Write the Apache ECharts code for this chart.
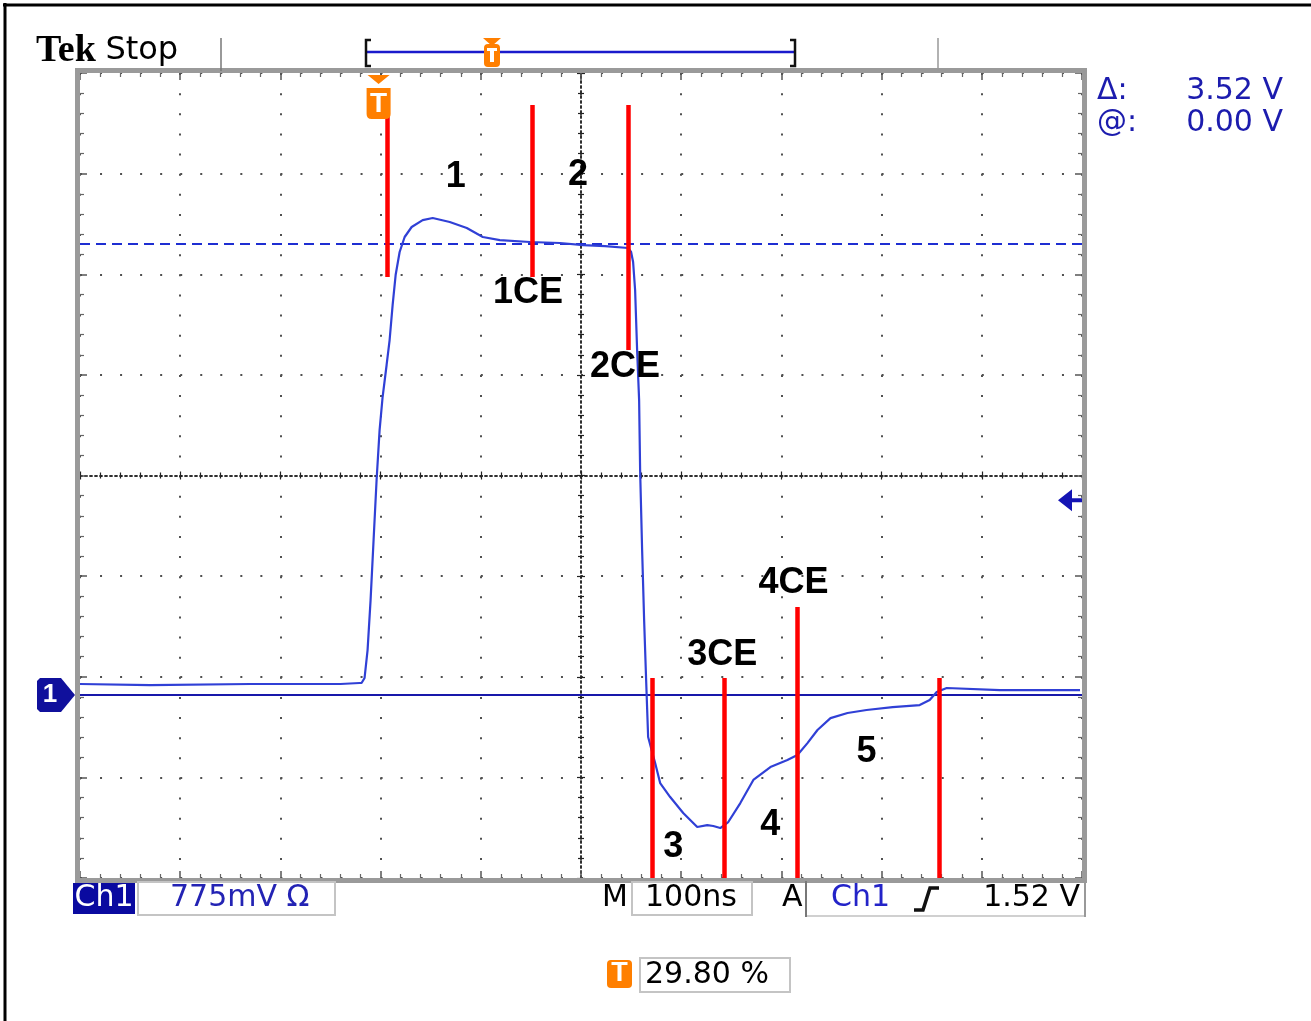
<!DOCTYPE html>
<html><head><meta charset="utf-8">
<script src="https://cdn.jsdelivr.net/npm/echarts@6/dist/echarts.min.js"></script>
<style>html,body{margin:0;padding:0;background:#fff}#c{width:1311px;height:1021px}</style>
</head><body><div id="c"></div>
<script>
// ---- data (time in ns, voltage in V) ----
const timeNs = [0, 70, 170, 260, 279, 281, 284, 287, 290, 293, 296, 299, 302, 306, 309, 312, 315, 319, 324, 331, 342, 352, 369, 386, 402, 419, 449, 479, 502, 524, 547, 550, 552, 554, 556, 558, 559, 561, 563, 565, 567, 571, 574, 579, 589, 602, 616, 626, 632, 639, 647, 659, 672, 689, 706, 716, 726, 736, 749, 766, 785, 811, 838, 848, 855, 865, 918, 998];
const traceVolts = [0.086, 0.078, 0.086, 0.086, 0.094, 0.094, 0.133, 0.351, 0.741, 1.210, 1.678, 2.068, 2.326, 2.576, 2.771, 3.044, 3.278, 3.458, 3.575, 3.653, 3.707, 3.723, 3.692, 3.645, 3.575, 3.551, 3.536, 3.528, 3.512, 3.504, 3.489, 3.458, 3.380, 3.161, 2.693, 2.302, 1.756, 1.132, 0.585, 0.117, -0.328, -0.445, -0.531, -0.687, -0.796, -0.921, -1.030, -1.015, -1.022, -1.038, -0.991, -0.843, -0.663, -0.562, -0.507, -0.468, -0.375, -0.273, -0.180, -0.140, -0.117, -0.094, -0.078, -0.039, 0.023, 0.055, 0.039, 0.039];

const cursorTimes   = [307, 451, 547, 571, 643, 716, 858];
const cursorTops    = [4.605, 4.605, 4.605, 0.133, 0.133, 0.687, 0.133];
const cursorBottoms = [3.262, 3.262, 2.693, -1.428, -1.428, -1.428, -1.428];

const labelTexts = ['1', '2', '1CE', '2CE', '3CE', '4CE', '3', '4', '5'];
const labelTimes = [375, 497, 447, 544, 641, 712, 592, 689, 785];
const labelVolts = [4.043, 4.059, 3.138, 2.560, 0.312, 0.874, -1.186, -1.015, -0.445];

const levelCursors = [3.52, 0.00];
const triggerTimeNs = 298;
const triggerLevelV = 1.52;
const voltMin = -1.428, voltMax = 4.855;
const timeMin = 0, timeMax = 1000, timeDiv = 100;

const readDelta = '3.52 V', readAt = '0.00 V';
const chScale = '775mV \u03A9', timeBase = '100ns', trigLevelText = '1.52 V', trigPosText = '29.80 %';

// ---- chart ----
const chart = echarts.init(document.getElementById('c'), null, {renderer: 'canvas'});
const FONT = 'DejaVu Sans';
const ORANGE = '#ff7f00';
const DOT = '#505050';

function frameX(pos, split) {
  return {type: 'value', min: timeMin, max: timeMax, interval: timeDiv, position: pos,
    axisLine: {show: false, onZero: false},
    axisTick: {show: true, inside: true, length: 7, lineStyle: {color: '#555', width: 1.5}},
    minorTick: {show: true, splitNumber: 5, length: 4, lineStyle: {color: '#666', width: 1.2}},
    axisLabel: {show: false},
    splitLine: {show: split, lineStyle: {color: DOT, width: 2, type: [2, 18.125]}}};
}
function frameY(pos, split) {
  return {type: 'value', min: -4, max: 4, interval: 1, position: pos,
    axisLine: {show: false, onZero: false},
    axisTick: {show: true, inside: true, length: 7, lineStyle: {color: '#555', width: 1.5}},
    minorTick: {show: true, splitNumber: 5, length: 4, lineStyle: {color: '#666', width: 1.2}},
    axisLabel: {show: false},
    splitLine: {show: split, lineStyle: {color: DOT, width: 2, type: [2, 18.04]}}};
}
function centerX(inside) {
  return {type: 'value', min: -5, max: 5, interval: 1, position: 'bottom',
    axisLine: {show: true, onZero: true, onZeroAxisIndex: 1, lineStyle: {color: '#222', width: 1.5, type: [2, 3]}},
    axisTick: {show: true, inside: inside, length: 4, lineStyle: {color: '#222', width: 1.2}},
    minorTick: {show: true, splitNumber: 5, length: 3, lineStyle: {color: '#222', width: 1.2}},
    axisLabel: {show: false}, splitLine: {show: false}};
}
function centerY(inside) {
  return {type: 'value', min: -4, max: 4, interval: 1, position: 'left',
    axisLine: {show: true, onZero: true, onZeroAxisIndex: 2, lineStyle: {color: '#222', width: 1.5, type: [2, 3]}},
    axisTick: {show: true, inside: inside, length: 4, lineStyle: {color: '#222', width: 1.2}},
    minorTick: {show: true, splitNumber: 5, length: 3, lineStyle: {color: '#222', width: 1.2}},
    axisLabel: {show: false}, splitLine: {show: false}};
}

function txt(x, y, text, opts) {
  opts = opts || {};
  return {type: 'text', x: x, y: y, z: 20, style: Object.assign({
    text: text, fill: opts.color || '#000',
    font: (opts.weight || 'normal') + ' ' + (opts.size || 30) + 'px "' + (opts.family || FONT) + '"',
    align: opts.align || 'left', textAlign: opts.align || 'left',
    verticalAlign: 'middle', textVerticalAlign: 'middle'}, opts.extra || {})};
}

const graphics = [
  // outer border
  {type: 'line', z: 20, shape: {x1: 5, y1: 3, x2: 5, y2: 1021}, style: {stroke: '#000', lineWidth: 3}},
  {type: 'line', z: 20, shape: {x1: 3, y1: 5, x2: 1311, y2: 5}, style: {stroke: '#000', lineWidth: 3}},
  // screen frame
  {type: 'rect', z: 15, shape: {x: 77.5, y: 70.5, width: 1007, height: 810}, style: {fill: null, stroke: '#9a9a9a', lineWidth: 5}},
  // header
  {type: 'text', x: 36, y: 51, z: 20, style: {text: '{a|Tek} {b|Stop}', verticalAlign: 'middle', textVerticalAlign: 'middle',
    font: '30px "DejaVu Sans"',
    rich: {a: {fontFamily: 'Liberation Serif', fontWeight: 'bold', fontSize: 38, fill: '#000'},
           b: {fontFamily: 'DejaVu Sans', fontSize: 32, fill: '#000'}}}},
  {type: 'line', z: 20, shape: {x1: 221, y1: 38, x2: 221, y2: 71}, style: {stroke: '#777', lineWidth: 1.5}},
  {type: 'line', z: 20, shape: {x1: 938, y1: 38, x2: 938, y2: 71}, style: {stroke: '#999', lineWidth: 1.5}},
  // record bar
  {type: 'line', z: 20, shape: {x1: 366, y1: 52, x2: 795, y2: 52}, style: {stroke: '#1a1acc', lineWidth: 2.5}},
  {type: 'polyline', z: 20, shape: {points: [[371, 40], [366, 40], [366, 66], [371, 66]]}, style: {stroke: '#111', lineWidth: 2.5, fill: null}},
  {type: 'polyline', z: 20, shape: {points: [[790, 40], [795, 40], [795, 66], [790, 66]]}, style: {stroke: '#111', lineWidth: 2.5, fill: null}},
  {type: 'polygon', z: 21, shape: {points: [[483, 38], [501, 38], [492, 46]]}, style: {fill: ORANGE}},
  {type: 'rect', z: 21, shape: {x: 484, y: 44, width: 16, height: 23, r: 4}, style: {fill: ORANGE}},
  {type: 'rect', z: 22, shape: {x: 490, y: 49, width: 4, height: 13}, style: {fill: '#fff'}},
  {type: 'rect', z: 22, shape: {x: 487, y: 48, width: 10, height: 3}, style: {fill: '#fff'}},
  // right readouts
  txt(1097, 91, '\u0394:', {color: '#1c1cae', size: 30}),
  txt(1097, 123, '@:', {color: '#1c1cae', size: 30}),
  txt(1283, 91, readDelta, {color: '#1c1cae', size: 30, align: 'right'}),
  txt(1283, 123, readAt, {color: '#1c1cae', size: 30, align: 'right'}),
  // bottom info bar
  {type: 'rect', z: 20, shape: {x: 73, y: 883, width: 62, height: 31}, style: {fill: '#0a0aa0'}},
  txt(104, 898, 'Ch1', {color: '#fff', size: 30, align: 'center'}),
  {type: 'rect', z: 20, shape: {x: 138, y: 882, width: 197, height: 33}, style: {fill: null, stroke: '#c4c4c4', lineWidth: 2}},
  txt(170, 898, chScale, {color: '#2323b4', size: 30}),
  txt(602, 898, 'M', {size: 30}),
  {type: 'rect', z: 20, shape: {x: 632, y: 882, width: 120, height: 33}, style: {fill: null, stroke: '#c4c4c4', lineWidth: 2}},
  txt(645, 898, timeBase, {size: 30}),
  txt(782, 898, 'A', {size: 30}),
  {type: 'line', z: 20, shape: {x1: 806, y1: 916, x2: 1085, y2: 916}, style: {stroke: '#d0d0d0', lineWidth: 2}},
  {type: 'line', z: 20, shape: {x1: 806, y1: 881, x2: 806, y2: 917}, style: {stroke: '#777', lineWidth: 2}},
  {type: 'line', z: 20, shape: {x1: 1085, y1: 881, x2: 1085, y2: 917}, style: {stroke: '#999', lineWidth: 2}},
  txt(831, 898, 'Ch1', {color: '#2323c8', size: 30}),
  {type: 'polyline', z: 20, shape: {points: [[914, 910], [923, 910], [930, 888], [939, 888]]}, style: {stroke: '#111', lineWidth: 3.5, fill: null}},
  txt(1080, 898, trigLevelText, {size: 30, align: 'right'}),
  {type: 'rect', z: 20, shape: {x: 607, y: 960, width: 25, height: 28, r: 4}, style: {fill: ORANGE}},
  txt(619.5, 974, 'T', {color: '#fff', size: 27, weight: 'bold', align: 'center', family: 'Liberation Sans'}),
  {type: 'rect', z: 20, shape: {x: 640, y: 958, width: 150, height: 34}, style: {fill: null, stroke: '#c4c4c4', lineWidth: 2}},
  txt(645, 975, trigPosText, {size: 30})
];

const traceData = timeNs.map((t, i) => [t, traceVolts[i]]);
const cursorSegs = cursorTimes.map((t, i) => [{coord: [t, cursorTops[i]]}, {coord: [t, cursorBottoms[i]]}]);
const labelData = labelTimes.map((t, i) => [t, labelVolts[i], labelTexts[i]]);

chart.setOption({
  animation: false,
  backgroundColor: '#ffffff',
  grid: {left: 80, top: 73, width: 1002, height: 805, containLabel: false},
  xAxis: [frameX('bottom', true), frameX('top', false), centerX(false), centerX(true)],
  yAxis: [
    {type: 'value', min: voltMin, max: voltMax, show: false, position: 'left', axisLine: {onZero: false}},
    frameY('left', true), frameY('right', false), centerY(false), centerY(true)
  ],
  graphic: {elements: graphics},
  series: [
    {
      name: 'levels', type: 'scatter', xAxisIndex: 0, yAxisIndex: 0, data: [], z: 2, silent: true,
      markLine: {
        silent: true, symbol: 'none', label: {show: false}, z: 2,
        data: [
          {yAxis: levelCursors[0], lineStyle: {color: '#1e2ed2', width: 2, type: [10, 6]}},
          {yAxis: levelCursors[1], lineStyle: {color: '#1818aa', width: 2, type: 'solid'}}
        ]
      }
    },
    {
      name: 'Ch1', type: 'line', xAxisIndex: 0, yAxisIndex: 0, data: traceData, z: 3,
      showSymbol: false, symbol: 'none', smooth: false, clip: false,
      lineStyle: {color: '#3040d6', width: 2.2},
      markLine: {
        silent: true, symbol: 'none', label: {show: false}, z: 6,
        lineStyle: {color: '#ff0000', width: 4.5, type: 'solid'},
        data: cursorSegs
      },
      markPoint: {
        silent: true, z: 8,
        data: [
          {coord: [timeMin, levelCursors[1]], symbol: 'path://M3,0 H24 L38,17 L24,34 H3 L0,31 V3 Z',
           symbolSize: [38, 34], symbolOffset: [-24, 0], itemStyle: {color: '#10109c'},
           label: {show: true, formatter: '1', color: '#fff', fontSize: 26, fontWeight: 'bold', fontFamily: 'Liberation Sans', offset: [-6, 0]}},
          {coord: [triggerTimeNs, voltMax], symbol: 'path://M1,0 H23 L12,9 Z M0,13 H24 V39 Q24,44 19,44 H5 Q0,44 0,39 Z',
           symbolSize: [24, 44], symbolOffset: [0, 24], itemStyle: {color: ORANGE},
           label: {show: true, formatter: 'T', color: '#fff', fontSize: 28, fontWeight: 'bold', fontFamily: 'Liberation Sans', offset: [0, 7]}},
          {coord: [timeMax, triggerLevelV], symbol: 'path://M0,11 L14,0 V9 H24 V13 H14 V22 Z',
           symbolSize: [24, 22], symbolOffset: [-12, 0], itemStyle: {color: '#1414b4'}, label: {show: false}}
        ]
      }
    },
    {
      name: 'labels', type: 'scatter', xAxisIndex: 0, yAxisIndex: 0, data: labelData, z: 9, silent: true,
      symbolSize: 0, itemStyle: {opacity: 1},
      label: {show: true, position: 'inside', formatter: p => p.value[2], color: '#000', opacity: 1,
        fontSize: 36, fontWeight: 'bold', fontFamily: 'Liberation Sans'}
    }
  ]
});
</script>
</body></html>
